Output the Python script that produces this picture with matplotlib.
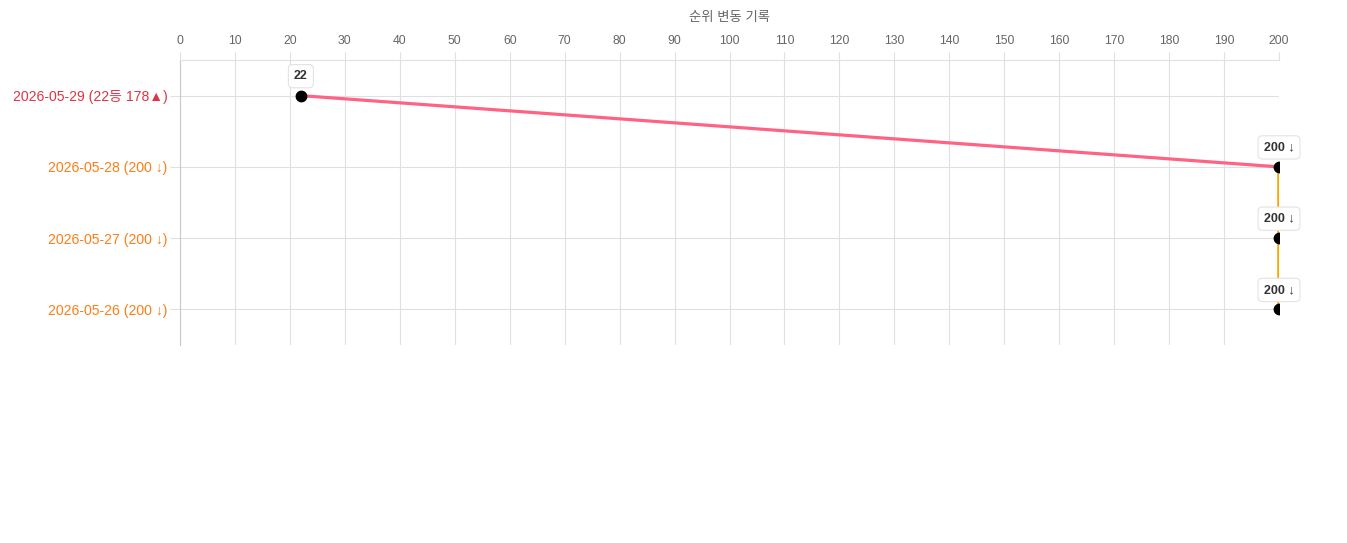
import matplotlib.pyplot as plt

plt.rcParams['font.family'] = ['Liberation Sans', 'Noto Sans CJK KR', 'DejaVu Sans']

# data (top row = newest)
dates = ['2026-05-29', '2026-05-28', '2026-05-27', '2026-05-26']
ranks = [22, 200, 200, 200]
tick_labels = ['2026-05-29 (22등 178▲)', '2026-05-28 (200 ↓)',
               '2026-05-27 (200 ↓)', '2026-05-26 (200 ↓)']
label_colors = ['#dc3545', '#fd7e14', '#fd7e14', '#fd7e14']
point_labels = ['22', '200 ↓', '200 ↓', '200 ↓']
segment_colors = ['#ff6384', '#ffa500', '#ffa500']
segment_widths = [2.3, 2.6, 2.6]

W, H = 1347, 543
fig = plt.figure(figsize=[W / 100, H / 100], dpi=100)
ax = fig.add_axes([180 / W, 1 - 345 / H, 1099 / W, 285 / H])

ypos = list(range(len(dates)))
ax.set_xlim(0, 200)
ax.set_ylim(len(dates) - 0.5, -0.5)

# connecting segments
for i in range(len(ranks) - 1):
    ax.plot(ranks[i:i + 2], ypos[i:i + 2], color=segment_colors[i],
            lw=segment_widths[i], zorder=3, solid_capstyle='butt')

ax.plot(ranks, ypos, 'o', color='black', ms=7.5, zorder=4)

for r, y, t in zip(ranks, ypos, point_labels):
    ax.annotate(t, (r, y), xytext=(0, 14), textcoords='offset points',
                ha='center', va='center', fontsize=9, fontweight='bold',
                color='#333333', zorder=5, annotation_clip=False,
                bbox=dict(boxstyle='round,pad=0.45,rounding_size=0.35',
                          fc='white', ec='#e3e3e3', lw=0.8))

# axes styling
ax.xaxis.tick_top()
ax.set_xticks(range(0, 201, 10))
ax.set_yticks(ypos)
ax.set_yticklabels(tick_labels, fontsize=10.1)
ax.tick_params(axis='x', colors='#e0e0e0', labelcolor='#666666',
               labelsize=8.8, length=6, width=0.8, pad=3.5)
ax.tick_params(axis='y', colors='#e0e0e0', length=7, width=0.8, pad=2)
for lab, c in zip(ax.get_yticklabels(), label_colors):
    lab.set_color(c)
ax.grid(True, color='#e0e0e0', lw=0.8, zorder=0)
ax.set_axisbelow(True)

for s in ['right', 'bottom']:
    ax.spines[s].set_visible(False)
ax.spines['top'].set_color('#e0e0e0')
ax.spines['top'].set_linewidth(0.8)
ax.spines['left'].set_color('#c8c8c8')
ax.spines['left'].set_linewidth(0.8)

fig.text(729 / W, 1 - 18.5 / H, '순위 변동 기록', ha='center', va='center',
         fontsize=9.6, color='#666666')

fig.savefig('out.png', dpi=100)
